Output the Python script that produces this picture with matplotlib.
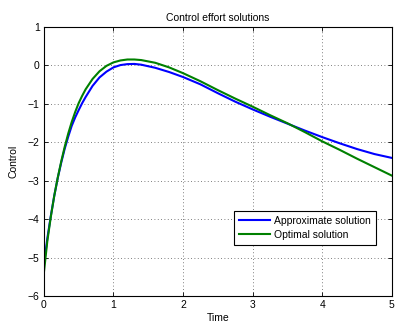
import matplotlib
matplotlib.use("Agg")
import matplotlib.pyplot as plt

# values
time = [0, 0.05, 0.1, 0.15, 0.2, 0.25, 0.3, 0.35, 0.4, 0.45, 0.5, 0.55,
        0.6, 0.7, 0.8, 0.9, 1.0, 1.1, 1.2, 1.3, 1.4, 1.6, 1.8, 2.0, 2.25,
        2.5, 2.75, 3.0, 3.25, 3.5, 3.75, 4.0, 4.25, 4.5, 4.75, 5.0]
approx_u = [-5.2, -4.5, -3.92, -3.39, -2.93, -2.53, -2.17, -1.86, -1.58,
            -1.36, -1.17, -0.99, -0.83, -0.54, -0.32, -0.17, -0.06, 0.0,
            0.025, 0.03, 0.01, -0.07, -0.18, -0.31, -0.5, -0.73, -0.95,
            -1.15, -1.34, -1.52, -1.7, -1.87, -2.03, -2.18, -2.31, -2.41]
optimal_u = [-5.4, -4.57, -3.94, -3.39, -2.92, -2.5, -2.12, -1.78, -1.48,
             -1.22, -0.99, -0.8, -0.63, -0.36, -0.16, -0.02, 0.07, 0.12,
             0.145, 0.145, 0.13, 0.06, -0.06, -0.21, -0.42, -0.65, -0.87,
             -1.08, -1.3, -1.51, -1.74, -1.98, -2.2, -2.43, -2.65, -2.87]
xticks = [0, 1, 2, 3, 4, 5]
yticks = [-6, -5, -4, -3, -2, -1, 0, 1]

plt.rcParams['font.family'] = ['Liberation Sans', 'DejaVu Sans']
plt.rcParams['font.size'] = 7.5

fig = plt.figure(figsize=(3.95, 3.28), dpi=100)
ax = fig.add_axes([0.111, 0.097, 0.881, 0.822])

ax.plot(time, approx_u, color=(0, 0, 1), lw=1.5, label='Approximate solution')
ax.plot(time, optimal_u, color=(0, 0.5, 0), lw=1.5, label='Optimal solution')

ax.set_xlim(0, 5)
ax.set_ylim(-6, 1)
ax.set_xticks(xticks)
ax.set_yticks(yticks)
ax.tick_params(direction='in', top=True, right=True, length=3, width=0.6,
               labelsize=7.5, pad=3)
ax.grid(True, linestyle=(0, (1, 3)), color='#555555', lw=0.6)
for s in ax.spines.values():
    s.set_linewidth(0.8)

ax.set_title('Control effort solutions', fontsize=7.5, pad=4)
ax.set_xlabel('Time', fontsize=7.5, labelpad=2)
ax.set_ylabel('Control', fontsize=7.5, labelpad=7)

leg = ax.legend(loc='lower right', bbox_to_anchor=(0.954, 0.189),
                borderaxespad=0, fontsize=7.5, fancybox=False, framealpha=1,
                edgecolor='black', handlelength=3.0, borderpad=0.5,
                labelspacing=0.4, handletextpad=0.35)
leg.get_frame().set_linewidth(0.8)

fig.savefig('out.png', dpi=100)
